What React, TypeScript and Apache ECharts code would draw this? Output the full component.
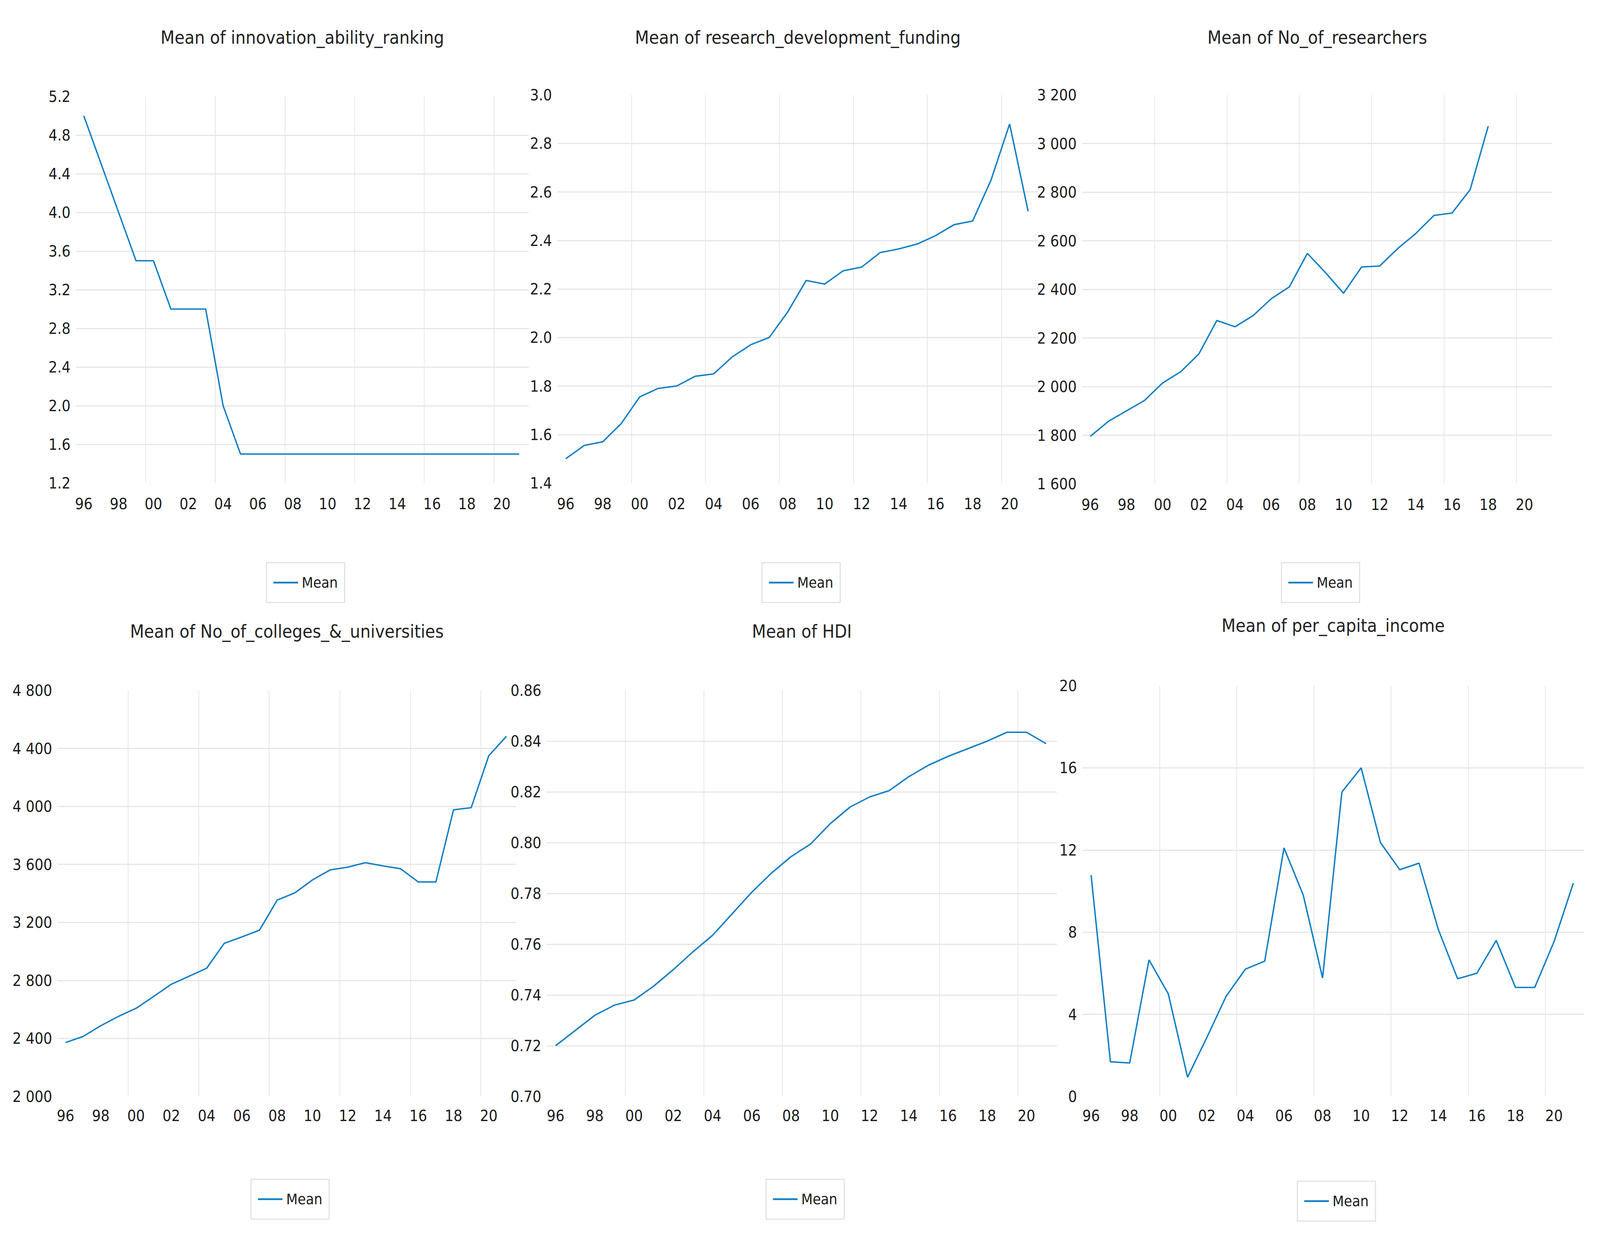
import React, { useEffect, useRef } from "react";
import * as echarts from "echarts";

const YEARS = [1996, 1997, 1998, 1999, 2000, 2001, 2002, 2003, 2004, 2005, 2006, 2007, 2008, 2009, 2010, 2011, 2012, 2013, 2014, 2015, 2016, 2017, 2018, 2019, 2020, 2021];
const X_LABEL_YEARS = [1996, 1998, 2000, 2002, 2004, 2006, 2008, 2010, 2012, 2014, 2016, 2018, 2020];

const INNOVATION_ABILITY_RANKING = [5.0, 4.5, 4.0, 3.5, 3.5, 3.0, 3.0, 3.0, 2.0, 1.5, 1.5, 1.5, 1.5, 1.5, 1.5, 1.5, 1.5, 1.5, 1.5, 1.5, 1.5, 1.5, 1.5, 1.5, 1.5, 1.5];
const RESEARCH_DEVELOPMENT_FUNDING = [1.5, 1.555, 1.57, 1.645, 1.755, 1.79, 1.8, 1.84, 1.85, 1.92, 1.97, 2.0, 2.105, 2.235, 2.22, 2.275, 2.29, 2.35, 2.365, 2.385, 2.42, 2.465, 2.48, 2.65, 2.88, 2.52];
const NO_OF_RESEARCHERS = [1795, 1857, 1900, 1943, 2015, 2061, 2134, 2272, 2246, 2292, 2361, 2410, 2548, 2469, 2384, 2492, 2496, 2568, 2630, 2704, 2714, 2810, 3071];
const NO_OF_COLLEGES = [2372, 2414, 2488, 2552, 2608, 2690, 2774, 2829, 2884, 3056, 3100, 3147, 3354, 3404, 3493, 3562, 3581, 3612, 3590, 3570, 3479, 3479, 3977, 3991, 4350, 4483];
const HDI = [0.72, 0.726, 0.732, 0.736, 0.738, 0.7435, 0.75, 0.757, 0.7635, 0.772, 0.7805, 0.788, 0.7945, 0.7995, 0.8075, 0.814, 0.818, 0.8205, 0.826, 0.8305, 0.834, 0.837, 0.84, 0.8435, 0.8435, 0.839];
const PER_CAPITA_INCOME = [10.78, 1.69, 1.63, 6.65, 5.0, 0.94, 2.87, 4.88, 6.2, 6.59, 12.1, 9.8, 5.77, 14.82, 16.0, 12.36, 11.04, 11.36, 8.13, 5.73, 6.0, 7.6, 5.31, 5.31, 7.54, 10.39];

const TITLES = [
  "Mean of innovation_ability_ranking",
  "Mean of research_development_funding",
  "Mean of No_of_researchers",
  "Mean of No_of_colleges_&_universities",
  "Mean of HDI",
  "Mean of per_capita_income",
];
const LEGEND_NAME = "Mean";

const REF_W = 5583;
const REF_H = 3173;
const FONT = "'Liberation Sans Narrow', 'Arial Narrow', 'DejaVu Sans Condensed', sans-serif";
const LINE_COLOR = "#0F7EC5";
const GRID_COLOR = "#E6E6E6";
const TEXT_COLOR = "#1A1A1A";
const X_MIN = 1995.55;
const X_MAX = 2021.55;

const fix = (d: number) => (v: number) => v.toFixed(d);
const thousands = (v: number) => {
  const s = Math.round(v).toString();
  return s.length > 3 ? s.slice(0, s.length - 3) + " " + s.slice(-3) : s;
};

type Panel = {
  title: string;
  values: number[];
  yMin: number;
  yMax: number;
  yStep: number;
  fmt: (v: number) => string;
  left: number;
  top: number;
  width: number;
  height: number;
  titleY: number;
  legendTop: number;
  xMargin: number;
};

const PANELS: Panel[] = [
  { title: TITLES[0], values: INNOVATION_ABILITY_RANKING, yMin: 1.2, yMax: 5.2, yStep: 0.4, fmt: fix(1), left: 265, top: 247, width: 1580, height: 990, titleY: 96, legendTop: 1441, xMargin: 33 },
  { title: TITLES[1], values: RESEARCH_DEVELOPMENT_FUNDING, yMin: 1.4, yMax: 3.0, yStep: 0.2, fmt: fix(1), left: 1945, top: 243, width: 1678, height: 994, titleY: 96, legendTop: 1441, xMargin: 33 },
  { title: TITLES[2], values: NO_OF_RESEARCHERS, yMin: 1600, yMax: 3200, yStep: 200, fmt: thousands, left: 3776, top: 243, width: 1641, height: 996, titleY: 96, legendTop: 1441, xMargin: 33 },
  { title: TITLES[3], values: NO_OF_COLLEGES, yMin: 2000, yMax: 4800, yStep: 400, fmt: thousands, left: 201, top: 1768, width: 1600, height: 1040, titleY: 1617, legendTop: 3020, xMargin: 29 },
  { title: TITLES[4], values: HDI, yMin: 0.7, yMax: 0.86, yStep: 0.02, fmt: fix(2), left: 1908, top: 1768, width: 1780, height: 1040, titleY: 1617, legendTop: 3020, xMargin: 29 },
  { title: TITLES[5], values: PER_CAPITA_INCOME, yMin: 0, yMax: 20, yStep: 4, fmt: (v: number) => String(Math.round(v)), left: 3777, top: 1756, width: 1750, height: 1052, titleY: 1602, legendTop: 3025, xMargin: 29 },
];

function buildOption(W: number, H: number) {
  const sx = W / REF_W;
  const sy = H / REF_H;
  const sf = Math.sqrt(sx * sy);
  const labelSize = 46 * sf;
  const grid: any[] = [];
  const xAxis: any[] = [];
  const yAxis: any[] = [];
  const series: any[] = [];
  const legend: any[] = [];
  const graphic: any[] = [];
  PANELS.forEach((p, i) => {
    grid.push({ left: p.left * sx, top: p.top * sy, width: p.width * sx, height: p.height * sy, containLabel: false, outerBoundsMode: "none" });
    xAxis.push({
      type: "value",
      gridIndex: i,
      min: X_MIN,
      max: X_MAX,
      position: "bottom",
      axisLine: { show: false },
      axisTick: { show: false },
      splitLine: { show: false },
      axisLabel: {
        customValues: X_LABEL_YEARS,
        formatter: (v: number) => String(Math.round(v)).slice(2),
        fontSize: labelSize,
        fontFamily: FONT,
        color: TEXT_COLOR,
        margin: p.xMargin * sy,
      },
    });
    xAxis.push({
      type: "value",
      gridIndex: i,
      min: X_MIN,
      max: X_MAX,
      interval: 4,
      position: "top",
      axisLine: { show: false },
      axisTick: { show: false },
      axisLabel: { show: false },
      splitLine: { show: true, showMinLine: false, showMaxLine: false, lineStyle: { color: GRID_COLOR, width: 2.6 * sx } },
    });
    yAxis.push({
      type: "value",
      gridIndex: i,
      min: p.yMin,
      max: p.yMax,
      interval: p.yStep,
      axisLine: { show: false },
      axisTick: { show: false },
      axisLabel: { formatter: p.fmt, fontSize: labelSize, fontFamily: FONT, color: TEXT_COLOR, margin: 19 * sx },
      splitLine: { show: true, showMinLine: false, showMaxLine: false, lineStyle: { color: GRID_COLOR, width: 3 * sy } },
    });
    series.push({
      type: "line",
      name: LEGEND_NAME,
      xAxisIndex: i * 2,
      yAxisIndex: i,
      data: p.values.map((v, k) => [YEARS[k], v]),
      symbol: "none",
      showSymbol: false,
      lineStyle: { color: LINE_COLOR, width: 4.2 * sf },
      itemStyle: { color: LINE_COLOR },
    });
    const cx = p.left + p.width / 2;
    legend.push({
      data: [{ name: LEGEND_NAME, icon: "rect" }],
      left: (cx - 125) * sx,
      top: p.legendTop * sy,
      orient: "horizontal",
      padding: [32 * sy, 24 * sx],
      itemWidth: 86 * sx,
      itemHeight: 5 * sf,
      itemGap: 10 * sx,
      borderColor: "#DEDEDE",
      borderWidth: 3 * sf,
      backgroundColor: "#FFFFFF",
      itemStyle: { color: LINE_COLOR },
      textStyle: { fontSize: 44 * sf, fontFamily: FONT, color: TEXT_COLOR, padding: [0, 0, 0, 6 * sx] },
      selectedMode: false,
    });
    graphic.push({
      type: "text",
      x: cx * sx,
      y: p.titleY * sy,
      style: {
        text: p.title,
        fill: "#222222",
        fontSize: 54 * sf,
        fontFamily: FONT,
        align: "center",
        verticalAlign: "middle",
      },
    });
  });
  return { animation: false, backgroundColor: "#FFFFFF", grid, xAxis, yAxis, series, legend, graphic };
}

export default function App() {
  const ref = useRef<HTMLDivElement>(null);
  useEffect(() => {
    const el = ref.current;
    if (!el) return;
    const W = el.clientWidth || window.innerWidth;
    const H = el.clientHeight || window.innerHeight;
    const chart = echarts.init(el, undefined, { renderer: "svg", width: W, height: H });
    chart.setOption(buildOption(W, H) as any);
    return () => chart.dispose();
  }, []);
  return <div ref={ref} style={{ position: "fixed", left: 0, top: 0, width: "100vw", height: "100vh", background: "#fff" }} />;
}
